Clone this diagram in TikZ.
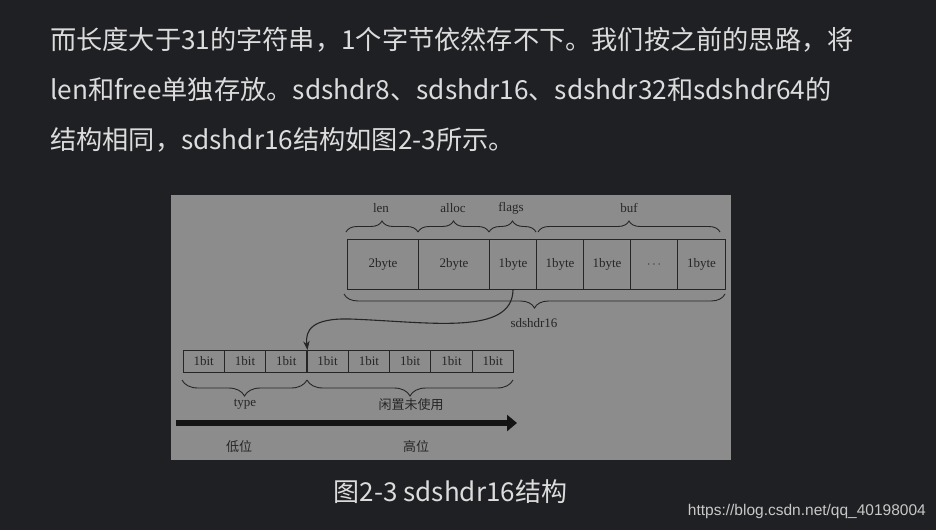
\documentclass[tikz,border=0pt]{standalone}
\usepackage{fontspec}
\setmainfont{Liberation Serif}
\newfontfamily\cjk{Noto Sans CJK SC}
\newfontfamily\wm{Liberation Sans}
\usetikzlibrary{decorations.pathreplacing,arrows.meta}
\definecolor{bgdark}{HTML}{1F2023}
\definecolor{panel}{HTML}{8C8C8C}
\definecolor{ink}{HTML}{262626}
\definecolor{bodytxt}{HTML}{DCDCDC}
\definecolor{wmtxt}{HTML}{C8C8C8}
\tikzset{
  cell/.style={draw=ink, line width=1pt, minimum height=50pt, inner sep=0pt, text=ink, font=\fontsize{13}{15}\selectfont, anchor=north west},
  bitcell/.style={draw=ink, line width=1pt, minimum width=41.4pt, minimum height=22pt, inner sep=0pt, text=ink, font=\fontsize{13}{15}\selectfont, anchor=north west},
  brc/.style={draw=ink, line width=0.9pt, decorate, decoration={brace, amplitude=#1}},
  lbl/.style={text=ink, font=\fontsize{13}{15}\selectfont, inner sep=0pt},
  cjklbl/.style={text=ink, font=\cjk\fontsize{13}{15}\selectfont, inner sep=0pt},
  body/.style={text=bodytxt, font=\cjk\fontsize{26.2}{30}\selectfont, inner sep=0pt, anchor=west},
}
\begin{document}
\begin{tikzpicture}[x=1pt,y=-1pt]
\path[fill=bgdark] (0,0) rectangle (936,530);
\useasboundingbox (0,0) rectangle (936,530);
\path[fill=panel] (171,195) rectangle (731,460);

% body text
\node[body] (t1) at (50,40) {而长度大于31的字符串，1个字节依然存不下。我们按之前的思路，将};
\node[body] (t2) at (50,90) {len和free单独存放。sdshdr8、sdshdr16、sdshdr32和sdshdr64的};
\node[body] (t3) at (50,140) {结构相同，sdshdr16结构如图2-3所示。};

% top row
\node[cell, minimum width=71pt] (c1) at (347,239) {2byte};
\node[cell, minimum width=71pt] (c2) at (418,239) {2byte};
\node[cell, minimum width=47pt] (c3) at (489,239) {1byte};
\node[cell, minimum width=47pt] (c4) at (536,239) {1byte};
\node[cell, minimum width=47pt] (c5) at (583,239) {1byte};
\node[cell, minimum width=47pt] (c6) at (630,239) {$\cdots$};
\node[cell, minimum width=48pt] (c7) at (677,239) {1byte};

% braces above
\draw[brc=11] (346,232) -- (418,232);
\draw[brc=11] (418,232) -- (489,232);
\draw[brc=11] (489,232) -- (536,232);
\draw[brc=11] (538,232) -- (720,232);
\node[lbl] (len) at (381,208) {len};
\node[lbl] (alloc) at (453,208) {alloc};
\node[lbl] (flags) at (511,208) {flags};
\node[lbl] (buf) at (629,208) {buf};

% brace below
\draw[brc=14] (725,294) -- (344,294);
\node[lbl] (sds) at (534,323) {sdshdr16};

% bit row
\foreach \i in {1,...,8} {
  \node[bitcell] (b\i) at ({182.5+41.3*(\i-1)},350) {1bit};
}
\draw[brc=16] (307,380) -- (182,380);
\draw[brc=16] (513,380) -- (307,380);
\node[lbl] (type) at (245,404) {type};
\node[cjklbl] (idle) at (411,405) {闲置未使用};

% curved arrow
\draw[ink, line width=1.1pt, -{Stealth[length=9pt,width=6.5pt]}]
  (c3.south) .. controls (512,336) and (430,322) .. (350,319)
  .. controls (312,318) and (305,330) .. (b3.north east);

% big arrow
\coordinate (ax0) at (176,423);
\coordinate (ax1) at (517,423);
\draw[black!92, line width=6pt, -{Triangle[length=10pt,width=16pt]}] (ax0) -- (ax1);
\node[cjklbl] (low) at (239,447) {低位};
\node[cjklbl] (high) at (416,447) {高位};

% caption and watermark
\node[text=bodytxt, font=\cjk\fontsize{26}{30}\selectfont, inner sep=0pt] (cap) at (450.5,492) {图2-3 sdshdr16结构};
\node[text=wmtxt, font=\wm\fontsize{15.5}{18}\selectfont, inner sep=0pt, anchor=east] (wm) at (926,511) {https://blog.csdn.net/qq\_40198004};
\end{tikzpicture}
\end{document}
